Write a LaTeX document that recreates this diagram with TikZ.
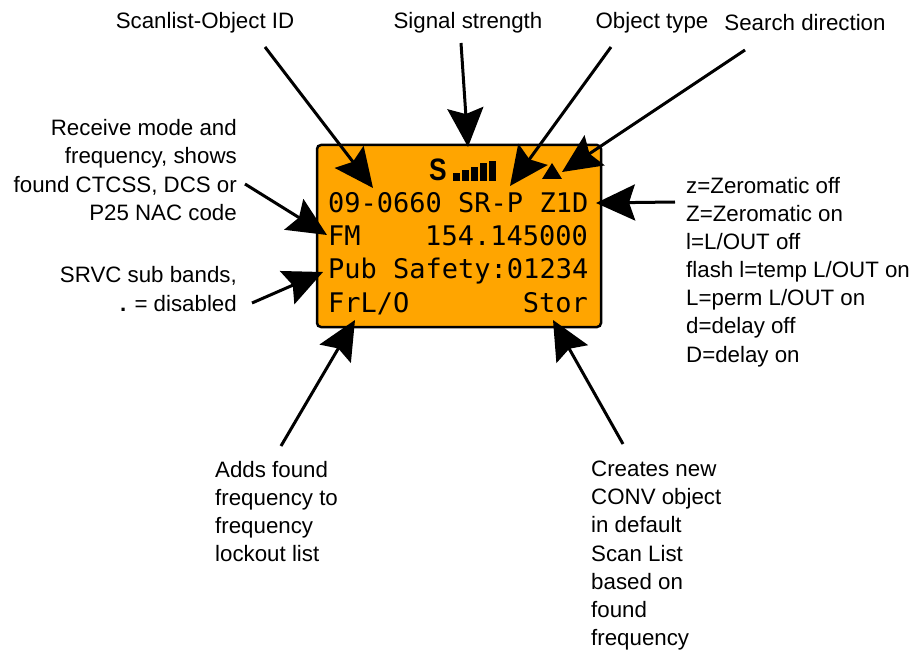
\documentclass[tikz,border=0pt]{standalone}
\usepackage{fontspec}
\setmainfont{Liberation Sans}
\newfontfamily\lcdfont{DejaVu Sans Mono}
\usetikzlibrary{arrows.meta}
\definecolor{lcdorange}{HTML}{FFA500}
\tikzset{
  lbl/.style={inner sep=0pt, font=\fontsize{22.3}{28.1}\selectfont},
  lcdtext/.style={inner sep=0pt, anchor=base west, font=\lcdfont\fontsize{27}{27}\selectfont, text=black},
  callout/.style={line width=3pt, -{Stealth[length=39pt,width=36pt,inset=6pt]}},
}
\begin{document}
\begin{tikzpicture}[x=1pt, y=-1pt]
\useasboundingbox (0,0) rectangle (914,650);
\node (lcd) at (459,236) [draw, line width=2.5pt, fill=lcdorange, rounded corners=4pt, inner sep=0pt, minimum width=284pt, minimum height=182pt] {};
\node (lcdsig) at (429,181) [inner sep=0pt, anchor=base west, xscale=0.85, font=\bfseries\fontsize{31}{31}\selectfont] {S};
\foreach \barx/\bartop in {453/173, 462/170, 471/167, 480/163, 489/161}
  \fill (\barx,181) rectangle (\barx+7,\bartop);
\fill (542,179) -- (562,179) -- (552,163) -- cycle;
\node (lcdid) at (328,213) [lcdtext] {09-0660 SR-P Z1D};
\node (lcdmode) at (328,246) [lcdtext] {FM};
\node (lcdfreq) at (588,246) [lcdtext, anchor=base east] {154.145000};
\node (lcdsrvc) at (328,278) [lcdtext] {Pub Safety:01234};
\node (lcdlock) at (328,312) [lcdtext] {FrL/O};
\node (lcdstor) at (588,312) [lcdtext, anchor=base east] {Stor};
\node (lblscan) at (205,29) [lbl, anchor=base] {Scanlist-Object ID};
\node (lblsignal) at (468,29) [lbl, anchor=base] {Signal strength};
\node (lbltype) at (652,29) [lbl, anchor=base] {Object type};
\node (lblsearch) at (805,31) [lbl, anchor=base] {Search direction};
\node (lblmode) at (237,170) [lbl, anchor=east, align=right] {Receive mode and\\frequency, shows\\found CTCSS, DCS or\\P25 NAC code};
\node (lblsrvc) at (237,289) [lbl, anchor=east, align=right] {SRVC sub bands,\\{\bfseries .} = disabled};
\node (lblflags) at (686,272) [lbl, anchor=west, align=left] {z=Zeromatic off\\Z=Zeromatic on\\l=L/OUT off\\flash l=temp L/OUT on\\L=perm L/OUT on\\d=delay off\\D=delay on};
\node (lbllock) at (215,461) [lbl, anchor=north west, align=left] {Adds found\\frequency to\\frequency\\lockout list};
\node (lblstor) at (591,461) [lbl, anchor=north west, align=left] {Creates new\\CONV object\\in default\\Scan List\\based on\\found\\frequency};
\coordinate (scantip) at (373,188);
\coordinate (signaltip) at (468,147);
\coordinate (typetip) at (510,186);
\coordinate (searchtip) at (562,172);
\coordinate (flagtip) at (596,203);
\coordinate (modetip) at (327,235);
\coordinate (srvctip) at (323,272);
\coordinate (locktip) at (355,320);
\coordinate (stortip) at (553,320);
\draw [callout] ([shift={(60,18)}]lblscan.base) -- (scantip);
\draw [callout] ([shift={(-7,14)}]lblsignal.base) -- (signaltip);
\draw [callout] ([shift={(-41,18)}]lbltype.base) -- (typetip);
\draw [callout] ([shift={(-60,19)}]lblsearch.base) -- (searchtip);
\draw [callout] ([shift={(-11,-70)}]lblflags.west) -- (flagtip);
\draw [callout] ([shift={(8,14)}]lblmode.east) -- (modetip);
\draw [callout] ([shift={(15,14)}]lblsrvc.east) -- (srvctip);
\draw [callout] ([shift={(66,-15)}]lbllock.north west) -- (locktip);
\draw [callout] ([shift={(32,-17)}]lblstor.north west) -- (stortip);
\end{tikzpicture}
\end{document}
